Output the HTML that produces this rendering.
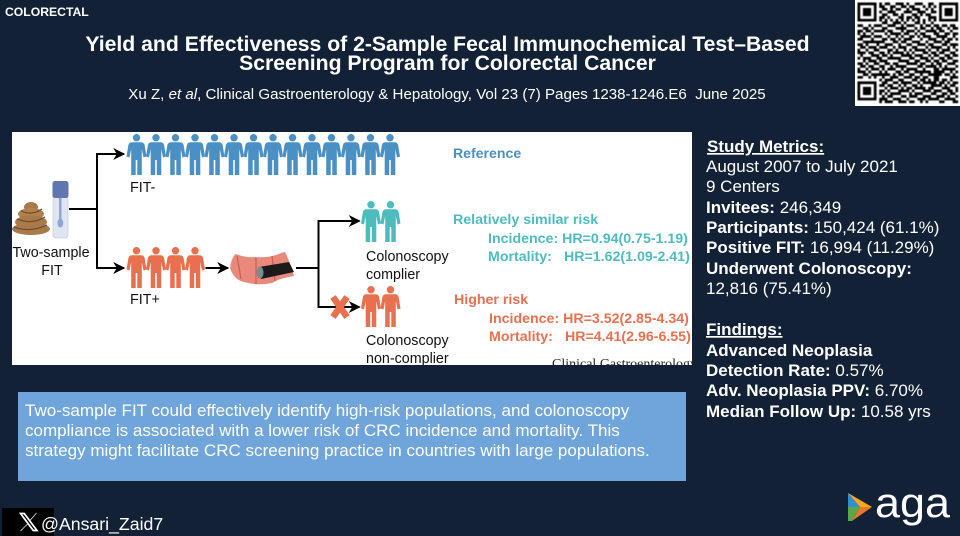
<!DOCTYPE html>
<html lang="en">
<head>
<meta charset="utf-8">
<title>Yield and Effectiveness of 2-Sample FIT Screening</title>
<style>
html,body{margin:0;padding:0;background:#122136;}
svg{display:block;font-family:"Liberation Sans",Arial,sans-serif;}
.b{font-weight:bold;}
.m text{font-size:17px;fill:#fff;}
.p{font-size:14.3px;fill:#111;}
</style>
</head>
<body>
<svg xmlns="http://www.w3.org/2000/svg" width="960" height="536" viewBox="0 0 960 536">
<defs>
<g id="person">
<circle cx="9.5" cy="3.7" r="3.7"/>
<path d="M5 8.200H14Q17 8.200 17.600 11L19.500 22.500 16.500 23.500 14.800 15V41H10.300V26H8.700V41H4.200V15L2.500 23.500-.5 22.500 1.400 11Q2 8.200 5 8.200Z"/>
</g>
<marker id="arrowhead" viewBox="0 0 10 10" refX="9" refY="5" markerWidth="6" markerHeight="6" orient="auto" markerUnits="strokeWidth">
<path d="M0 0L10 5 0 10 3 5Z" fill="#000"/>
</marker>
<filter id="soft"><feGaussianBlur stdDeviation="0.45"/></filter>
</defs>

<rect width="960" height="536" fill="#122136"/>

<text class="b" x="5" y="16" font-size="12.2" fill="#fff">COLORECTAL</text>
<text class="b" x="447.500" y="51" font-size="21.2" fill="#fff" text-anchor="middle">Yield and Effectiveness of 2-Sample Fecal Immunochemical Test–Based</text>
<text class="b" x="447.500" y="70" font-size="21.2" fill="#fff" text-anchor="middle">Screening Program for Colorectal Cancer</text>
<text x="447" y="99" font-size="15.1" fill="#fff" text-anchor="middle" xml:space="preserve">Xu Z, <tspan font-style="italic">et al</tspan>, Clinical Gastroenterology &amp; Hepatology, Vol 23 (7) Pages 1238-1246.E6  June 2025</text>

<g>
<rect x="855" y="0" width="105" height="106" fill="#fff"/>
<path id="qr-modules" fill="#000" filter="url(#soft)" d=""/>
</g>

<svg x="12" y="132" width="680" height="233" viewBox="12 132 680 233">
<rect x="12" y="132" width="680" height="233" fill="#fff"/>

<g fill="#4a90c4">
<use href="#person" x="127" y="134"/><use href="#person" x="146.5" y="134"/><use href="#person" x="166" y="134"/><use href="#person" x="185.5" y="134"/><use href="#person" x="205" y="134"/><use href="#person" x="224.5" y="134"/><use href="#person" x="244" y="134"/><use href="#person" x="263.5" y="134"/><use href="#person" x="283" y="134"/><use href="#person" x="302.5" y="134"/><use href="#person" x="322" y="134"/><use href="#person" x="341.5" y="134"/><use href="#person" x="361" y="134"/><use href="#person" x="380.5" y="134"/>
</g>
<g fill="#e8704f">
<use href="#person" x="127" y="247"/><use href="#person" x="146.5" y="247"/><use href="#person" x="166" y="247"/><use href="#person" x="185.5" y="247"/>
</g>
<g fill="#4dbcbf">
<use href="#person" x="361.5" y="201"/><use href="#person" x="381" y="201"/>
</g>
<g fill="#e8704f">
<use href="#person" x="361.5" y="286"/><use href="#person" x="381" y="286"/>
</g>

<g>
<ellipse cx="31" cy="207" rx="7" ry="5" fill="#a9794a"/>
<ellipse cx="31" cy="214" rx="13" ry="6" fill="#b0804f"/>
<ellipse cx="31" cy="222" rx="16" ry="6.500" fill="#a9794a"/>
<ellipse cx="31" cy="229" rx="19" ry="6" fill="#a9794a"/>
<path d="M14 227Q30 233 47 225M17 219Q32 225 45 217M21 211Q32 216 42 209" fill="none" stroke="#6d4a26" stroke-width="1.2"/>
</g>
<g>
<rect x="53" y="182" width="15" height="56" rx="3" fill="#dfe6ef" stroke="#b9c4d4" stroke-width=".6"/>
<rect x="52.500" y="181" width="16" height="17" rx="2.500" fill="#5f77ae"/>
<rect x="59" y="198" width="2.500" height="26" fill="#8ea6d6"/>
<ellipse cx="60.300" cy="223" rx="3" ry="4.500" fill="#8ea6d6"/>
</g>

<g fill="none" stroke="#000" stroke-width="2">
<path d="M69 209H97"/>
<path d="M124 154H97V268H124" marker-end="url(#arrowhead)"/>
<path d="M97 154H124" marker-end="url(#arrowhead)"/>
<path d="M205.500 268H228" marker-end="url(#arrowhead)"/>
<path d="M296 268H318"/>
<path d="M359.500 221H318.500V307H359.500" marker-end="url(#arrowhead)"/>
<path d="M318.500 221H359.500" marker-end="url(#arrowhead)"/>
</g>

<g>
<path d="M230 268Q232 256 236 254 246 258 255 257 266 258 276 255 284 252 285 252 290 262 294 276 280 278 272 283 258 286 244 282 234 280 230 268Z" fill="#e8897c"/>
<path d="M237 256L241 279M256 258V284M272 256L275 281" stroke="#c55f55" stroke-width="1.200" fill="none"/>
<path d="M259 267L289 262 294 272 261 279Z" fill="#1b1b1b"/>
<ellipse cx="260" cy="272.500" rx="3.500" ry="6" fill="#7d8a90"/>
</g>

<g stroke="#e8704f" stroke-width="6.500">
<path d="M333 297L347 317M347 297L333 317"/>
</g>

<text class="p" x="130" y="192">FIT-</text>
<text class="p" x="130" y="304">FIT+</text>
<text class="p" x="51" y="257" text-anchor="middle">Two-sample</text>
<text class="p" x="52" y="275" text-anchor="middle">FIT</text>
<text class="p" x="366" y="261">Colonoscopy</text>
<text class="p" x="366" y="279">complier</text>
<text class="p" x="366" y="345">Colonoscopy</text>
<text class="p" x="366" y="363">non-complier</text>

<g class="b" font-size="14.1" fill="#4a90c4">
<text x="453" y="158">Reference</text>
</g>
<g class="b" font-size="14.2" fill="#4dbcbf">
<text x="453" y="224">Relatively similar risk</text>
<text x="488" y="243">Incidence: HR=0.94(0.75-1.19)</text>
<text x="488" y="261">Mortality:</text>
<text x="564" y="261">HR=1.62(1.09-2.41)</text>
</g>
<g class="b" font-size="14.2" fill="#e8704f">
<text x="454" y="304">Higher risk</text>
<text x="489" y="323">Incidence: HR=3.52(2.85-4.34)</text>
<text x="489" y="341">Mortality:</text>
<text x="565" y="341">HR=4.41(2.96-6.55)</text>
</g>
<text x="552" y="368" font-size="14" fill="#222" style="font-family:'Liberation Serif',serif">Clinical Gastroenterology</text>
</svg>

<g>
<rect x="18" y="392" width="668" height="89" fill="#6fa5db"/>
<text x="25" y="416" font-size="17.05" fill="#fff">Two-sample FIT could effectively identify high-risk populations, and colonoscopy</text>
<text x="25" y="436" font-size="17.05" fill="#fff">compliance is associated with a lower risk of CRC incidence and mortality. This</text>
<text x="25" y="456" font-size="17.05" fill="#fff">strategy might facilitate CRC screening practice in countries with large populations.</text>
</g>

<g class="m">
<text x="707" y="152" class="b" text-decoration="underline">Study Metrics:</text>
<text x="706" y="172">August 2007 to July 2021</text>
<text x="706" y="192">9 Centers</text>
<text x="706" y="213"><tspan class="b">Invitees:</tspan> 246,349</text>
<text x="706" y="233"><tspan class="b">Participants:</tspan> 150,424 (61.1%)</text>
<text x="706" y="253"><tspan class="b">Positive FIT:</tspan> 16,994 (11.29%)</text>
<text x="706" y="274" class="b">Underwent Colonoscopy:</text>
<text x="706" y="294">12,816 (75.41%)</text>
</g>
<g class="m">
<text x="706" y="335" class="b" text-decoration="underline">Findings:</text>
<text x="706" y="356" class="b">Advanced Neoplasia</text>
<text x="706" y="376"><tspan class="b">Detection Rate:</tspan> 0.57%</text>
<text x="706" y="396"><tspan class="b">Adv. Neoplasia PPV:</tspan> 6.70%</text>
<text x="706" y="417"><tspan class="b">Median Follow Up:</tspan> 10.58 yrs</text>
</g>

<g>
<rect x="2" y="508" width="52" height="28" fill="#000"/>
<path d="M19.500 513H24.500L38 531H33ZM21.500 514L33.500 530H36L24 514ZM36.500 513L30 520.500M27.500 524L20.500 531" fill="#fff" stroke="#fff" stroke-width=".7"/>
<text x="41" y="530" font-size="17.7" fill="#fff">@Ansari_Zaid7</text>
</g>

<g>
<path d="M848 493L860 507 848 507Z" fill="#2f8fcf"/>
<path d="M848 493L872 507 860 507Z" fill="#f6a81c"/>
<path d="M860 507L872 507 852 521Z" fill="#e9772a"/>
<path d="M848 507H860L852 521 848 521Z" fill="#5aa84a"/>
<text x="875" y="517" font-size="42" fill="#fff" textLength="75" lengthAdjust="spacingAndGlyphs">aga</text>
</g>

<script>
var qrRows = [
"1111111 0 101100111010011100110 0 1111111",
"1000001 0 110011001101100010101 0 1000001",
"1011101 0 011010110010111001010 0 1011101",
"1011101 0 100111000111001110011 0 1011101",
"1011101 0 011001101000110101100 0 1011101",
"1000001 0 110100011011011000111 0 1000001",
"1111111 0 101010101010101010101 0 1111111",
"0000000 0 011001110100011010010 0 0000000",
"1100101 1 100111001011100101101 1 0110110",
"0011010 0 011000111100010110010 1 1001011",
"1101101 1 110110001011101001111 0 1100100",
"1010010 0 001011110110010110001 1 0011011",
"0111101 1 100100101001101011100 1 1110010",
"1100010 0 011011010111000100111 0 0101101",
"0011111 1 110001101100111001001 1 1011000",
"1101000 1 001110010011001110110 0 0110111",
"0110111 0 111001011100110001011 1 1001010",
"1001001 1 000110100101011110100 1 0111001",
"1110110 0 110101111010100011011 0 1100110",
"0100011 1 011010001111011100101 1 0011011",
"1011100 1 100111110001100111010 0 1101100",
"0010111 0 111000011110011001101 1 0110011",
"1101001 1 001101100011110110010 1 1001110",
"0110110 0 110010111100001101111 0 1010001",
"1001011 1 010111001011110010001 1 0111110",
"1110100 0 101000110110011111101 1 1100101",
"0011011 1 111101011001100100111 1 1011010",
"1100101 0 010011100111011011001 1 0000111",
"0000000 0 101110011000110110101 1 0110100",
"1111111 0 011001101111001011111 0 1101011",
"1000001 0 110110010100110100011 1 1010110",
"1011101 0 001011101011011110110 0 0111001",
"1011101 0 110100011110100011101 1 1001101",
"1011101 0 101011110001011100011 0 0110110",
"1000001 0 010110001101110011100 1 1101001",
"1111111 0 111001110010001110111 1 0011110",
"0000000 0 101110011101100101000 0 1100011"
];
var qrOriginX = 857.5;
var qrOriginY = 2.5;
var qrModule = 2.72;
var qrD = '';
qrRows.forEach(function (row, r) {
  var cells = row.replace(/ /g, '');
  for (var c = 0; c < cells.length; c++) {
    if (cells.charAt(c) === '1') {
      qrD += 'M' + (qrOriginX + c * qrModule).toFixed(2) + ' ' + (qrOriginY + r * qrModule).toFixed(2) +
        'h' + qrModule + 'v' + qrModule + 'h-' + qrModule + 'z';
    }
  }
});
document.getElementById('qr-modules').setAttribute('d', qrD);
</script>
</svg>
</body>
</html>
